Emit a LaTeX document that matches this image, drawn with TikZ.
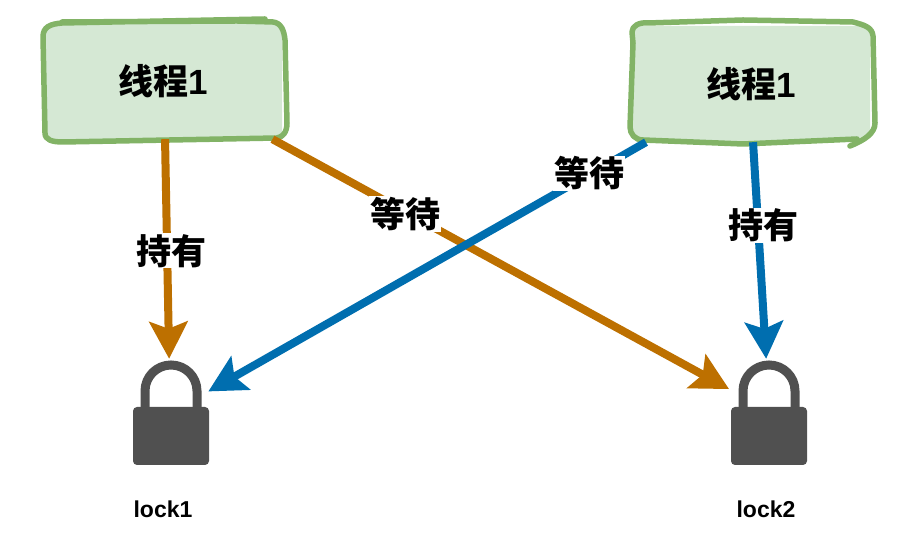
\documentclass[tikz,border=0pt]{standalone}
\usepackage{fontspec}
\setmainfont{Liberation Sans}
\newfontfamily\cjk{Noto Sans CJK SC}
\usetikzlibrary{arrows.meta}
\definecolor{box_fill}{HTML}{D5E8D4}
\definecolor{box_line}{HTML}{82B366}
\definecolor{hold_a}{HTML}{BD7000}
\definecolor{hold_b}{HTML}{006EAF}
\definecolor{lock_grey}{HTML}{505050}
\tikzstyle{node_thread} = [rectangle, fill=box_fill, rounded corners=8pt, minimum width=238pt, minimum height=116pt, font=\bfseries\fontsize{35}{35}\selectfont]
\tikzstyle{node_lock} = [rectangle, inner sep=0pt, minimum width=76pt, minimum height=104pt]
\tikzstyle{node_name} = [font=\bfseries\fontsize{23}{23}\selectfont]
\tikzstyle{edge_label} = [fill=white, inner sep=1pt, font=\bfseries\fontsize{35}{35}\selectfont]
\tikzstyle{edge_a} = [line width=8pt, draw=hold_a, -{Stealth[length=37pt,width=38pt,inset=7pt]}, shorten >=2pt]
\tikzstyle{edge_b} = [line width=8pt, draw=hold_b, -{Stealth[length=37pt,width=38pt,inset=7pt]}, shorten >=2pt]
\tikzstyle{sketch} = [line width=5.5pt, draw=box_line, line cap=round, line join=round]
\newcommand{\lockshape}[1]{
\fill[lock_grey, rounded corners=4pt, shift={(#1)}] (-38,-52) rectangle (38,6);
\draw[lock_grey, line width=9pt, shift={(#1)}] (-26,4) -- (-26,22) arc (180:0:26) -- (26,4);
}

\begin{document}
\begin{tikzpicture}[x=1pt, y=1pt]
\useasboundingbox (0,0) rectangle (912,534);
\node (thread_a) at (163,453) [node_thread] {\raisebox{-4pt}{{\cjk 线程}1}};
\node (thread_b) at (751,450) [node_thread] {\raisebox{-3pt}{{\cjk 线程}1}};

% hand drawn outlines
\draw[sketch, shift={(165,453)}] (-103,58) -- (100,62) (-103,59) -- (72,60) -- (108,59)
  .. controls (116,58) and (119,51) .. (120,41) -- (122,-42)
  .. controls (122,-51) and (118,-56) .. (112,-57) -- (-102,-61)
  .. controls (-113,-61) and (-120,-59) .. (-120,-52) -- (-122,44)
  .. controls (-122,54) and (-115,57) .. (-103,58);
\draw[sketch, shift={(752,450)}] (-104,61) -- (-9,64) -- (101,62)
  .. controls (112,59) and (120,57) .. (121,48) -- (123,-39)
  .. controls (123,-49) and (113,-56) .. (98,-62)
  (105,-55) -- (-9,-60) -- (-109,-56)
  .. controls (-117,-56) and (-122,-50) .. (-122,-43) -- (-119,41) -- (-120,52)
  .. controls (-120,58) and (-113,62) .. (-104,61);

\node (lock_a) at (171,121) [node_lock] {};
\node (lock_b) at (769,121) [node_lock] {};
\lockshape{171,121}
\lockshape{769,121}
\node (name_a) at (163,25) [node_name] {lock1};
\node (name_b) at (766,25) [node_name] {lock2};

\draw[edge_a] (thread_a.-88) -- (lock_a.92) node[edge_label, pos=.49, xshift=4pt, yshift=-3pt] {\cjk 持有};
\draw[edge_a] (thread_a.-28) -- (lock_b.149) node[edge_label, pos=.29, yshift=-2pt] {\cjk 等待};
\draw[edge_b, shorten >=-1pt] (thread_b.-151) -- (lock_a.30) node[edge_label, pos=.13, yshift=1pt] {\cjk 等待};
\draw[edge_b] (thread_b.-88) -- (lock_b.93) node[edge_label, pos=.38, xshift=5pt] {\cjk 持有};
\end{tikzpicture}
\end{document}
